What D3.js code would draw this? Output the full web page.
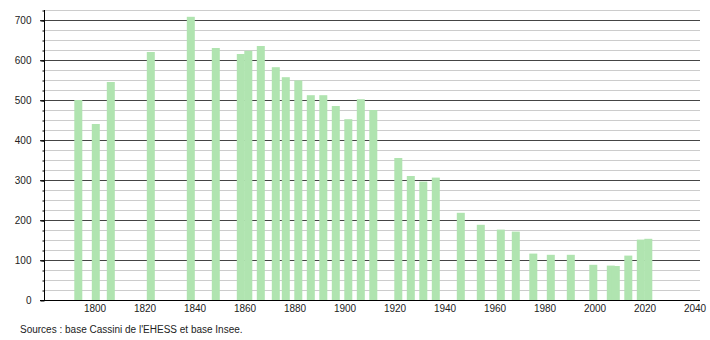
<!DOCTYPE html>
<html>
<head>
<meta charset="utf-8">
<script src="https://cdn.jsdelivr.net/npm/d3@7"></script>
<style>
  body { margin: 0; background: #fff; }
  svg { display: block; font-family: "Liberation Sans", Arial, sans-serif; }
  .domain { display: none; }
</style>
</head>
<body>
<div id="chart"></div>
<script>
// recensements (année, population)
const years = [1793, 1800, 1806, 1822, 1838, 1848, 1858, 1861, 1866, 1872, 1876, 1881, 1886, 1891,
  1896, 1901, 1906, 1911, 1921, 1926, 1931, 1936, 1946, 1954, 1962, 1968, 1975, 1982, 1990, 1999,
  2006, 2008, 2013, 2018, 2021];
const population = [500, 440, 545, 620, 708, 630, 615, 623, 635, 582, 557, 549, 512, 512,
  485, 452, 502, 475, 355, 310, 296, 306, 218, 188, 176, 171, 116, 113, 113, 88,
  86, 85, 111, 151, 153];
const xTicks = [1800, 1820, 1840, 1860, 1880, 1900, 1920, 1940, 1960, 1980, 2000, 2020, 2040];
const yTicks = [0, 100, 200, 300, 400, 500, 600, 700];
const yMinor = d3.range(25, 726, 25);
const source = "Sources : base Cassini de l'EHESS et base Insee.";

const width = 710, height = 340;
const plotLeft = 44, plotRight = 700, plotTop = 10, plotBottom = 300;
const barW = 8;

const svg = d3.select("#chart").append("svg")
  .attr("width", width)
  .attr("height", height);

const x = d3.scaleLinear().domain([1800, 2040]).range([94.5, 694.5]);
const y = d3.scaleLinear().domain([0, 725]).range([plotBottom, plotTop]);

// grille secondaire
svg.append("g").selectAll("line")
  .data(yMinor.filter(v => v % 100 !== 0))
  .join("line")
  .attr("x1", plotLeft).attr("x2", plotRight)
  .attr("y1", d => Math.round(y(d)) + 0.5)
  .attr("y2", d => Math.round(y(d)) + 0.5)
  .attr("stroke", "#cccccc");

// grille principale
svg.append("g").selectAll("line")
  .data(yTicks.filter(v => v > 0))
  .join("line")
  .attr("x1", plotLeft - 4).attr("x2", plotRight)
  .attr("y1", d => Math.round(y(d)) + 0.5)
  .attr("y2", d => Math.round(y(d)) + 0.5)
  .attr("stroke", "#444444");

// barres
svg.append("g").selectAll("rect")
  .data(years.map((yr, i) => ({ yr, v: population[i] })))
  .join("rect")
  .attr("x", d => x(d.yr) + 1.3 - barW / 2)
  .attr("width", barW)
  .attr("y", d => y(d.v))
  .attr("height", d => y(0) - y(d.v))
  .attr("fill", "#b0e4b0");

// axe vertical avec petites graduations
svg.append("g")
  .attr("transform", `translate(${plotLeft + 0.5},0.5)`)
  .call(d3.axisLeft(y).tickValues(yMinor).tickSize(2).tickFormat(""))
  .selectAll("line").attr("stroke", "#000");

const yAxis = svg.append("g")
  .attr("transform", `translate(${plotLeft + 0.5},0.5)`)
  .call(d3.axisLeft(y).tickValues(yTicks).tickSize(4).tickPadding(9));
yAxis.selectAll("line").attr("stroke", "#000");
yAxis.selectAll("text").attr("font-size", 10).attr("fill", "#222")
  .attr("font-family", "Liberation Sans, Arial, sans-serif");

svg.append("line")
  .attr("x1", plotLeft + 0.5).attr("x2", plotLeft + 0.5)
  .attr("y1", plotTop).attr("y2", plotBottom)
  .attr("stroke", "#000");

// axe horizontal
const xAxis = svg.append("g")
  .attr("transform", `translate(0,${plotBottom})`)
  .call(d3.axisBottom(x).tickValues(xTicks).tickSize(0).tickPadding(5).tickFormat(d3.format("d")));
xAxis.selectAll("text").attr("font-size", 10).attr("fill", "#222")
  .attr("font-family", "Liberation Sans, Arial, sans-serif");

svg.append("line")
  .attr("x1", plotLeft - 4).attr("x2", plotRight)
  .attr("y1", plotBottom + 0.5).attr("y2", plotBottom + 0.5)
  .attr("stroke", "#000");

svg.append("text")
  .attr("x", 20).attr("y", 333)
  .attr("font-size", 10).attr("fill", "#222")
  .text(source);
</script>
</body>
</html>
